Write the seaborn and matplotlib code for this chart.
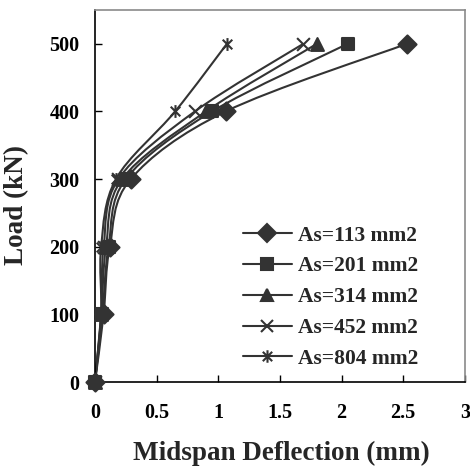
import matplotlib
matplotlib.use("Agg")
import matplotlib.pyplot as plt
import numpy as np
import pandas as pd
import seaborn as sns
from matplotlib.lines import Line2D
from matplotlib.path import Path
from matplotlib.patches import PathPatch

# Data
load = [0, 100, 200, 300, 400, 500]
defl_113 = [0.0, 0.07, 0.12, 0.29, 1.06, 2.53]
defl_201 = [0.0, 0.06, 0.11, 0.25, 0.95, 2.05]
defl_314 = [0.0, 0.05, 0.09, 0.22, 0.90, 1.80]
defl_452 = [0.0, 0.05, 0.07, 0.19, 0.81, 1.69]
defl_804 = [0.0, 0.05, 0.05, 0.17, 0.65, 1.07]
labels = ["As=113 mm2", "As=201 mm2", "As=314 mm2", "As=452 mm2", "As=804 mm2"]
x_ticks = [0, 0.5, 1, 1.5, 2, 2.5, 3]
x_ticklabels = ["0", "0.5", "1", "1.5", "2", "2.5", "3"]
y_ticks = [0, 100, 200, 300, 400, 500]

series = [defl_113, defl_201, defl_314, defl_452, defl_804]

# Excel style "star" marker: an x with a vertical bar through it
star = Path([(-0.75, -0.75), (0.75, 0.75), (-0.75, 0.75), (0.75, -0.75),
             (0, -1), (0, 1)],
            [Path.MOVETO, Path.LINETO, Path.MOVETO, Path.LINETO,
             Path.MOVETO, Path.LINETO])
markers = ["D", "s", "^", "x", star]

col = "#333333"
sns.set_style("ticks")
plt.rcParams["font.family"] = ["Liberation Serif", "DejaVu Serif"]
plt.rcParams["font.weight"] = "bold"

fig = plt.figure(figsize=(4.7, 4.69), dpi=100)
ax = fig.add_axes([0.2021, 0.1855, 0.7869, 0.7932])


def smooth_path(xs, ys):
    # Excel-style smoothed line (Catmull-Rom as cubic Bezier)
    pts = np.column_stack([xs, ys]).astype(float)
    verts = [pts[0]]
    codes = [Path.MOVETO]
    n = len(pts)
    for i in range(n - 1):
        p0 = pts[i - 1] if i > 0 else pts[i]
        p1, p2 = pts[i], pts[i + 1]
        p3 = pts[i + 2] if i + 2 < n else pts[i + 1]
        verts += [p1 + (p2 - p0) / 6, p2 - (p3 - p1) / 6, p2]
        codes += [Path.CURVE4] * 3
    return Path(verts, codes)


for d, lab, m in zip(series, labels, markers):
    ax.add_patch(PathPatch(smooth_path(d, load), fill=False, edgecolor=col,
                           lw=1.5, zorder=2))
    sub = pd.DataFrame({"defl": d, "load": load})
    sns.scatterplot(data=sub, x="defl", y="load", marker=m, s=85,
                    color=col, edgecolor=col, linewidth=1.5, ax=ax, zorder=3,
                    clip_on=False)

ax.set_xlim(0, 3)
ax.set_ylim(0, 550)
ax.set_xticks(x_ticks)
ax.set_xticklabels(x_ticklabels)
ax.set_yticks(y_ticks)
ax.tick_params(direction="in", length=5, width=1, colors="black",
               labelsize=14.5)
ax.tick_params(axis="x", pad=15)
ax.tick_params(axis="y", pad=11)
for t in ax.get_xticklabels() + ax.get_yticklabels():
    t.set_fontweight("bold")
ax.set_xlabel("Midspan Deflection (mm)", fontsize=19.5, fontweight="bold")
ax.set_ylabel("Load (kN)", fontsize=19.5, fontweight="bold")
ax.xaxis.set_label_coords(0.505, -0.158)
ax.yaxis.set_label_coords(-0.178, 0.476)

for s in ["left", "bottom"]:
    ax.spines[s].set_color("black")
    ax.spines[s].set_linewidth(1.2)
for s in ["top", "right"]:
    ax.spines[s].set_color("#8a8a8a")
    ax.spines[s].set_linewidth(1.2)

handles = [Line2D([0], [0], color=col, lw=1.5, marker=m, markersize=9,
                  markeredgewidth=1.5, markerfacecolor=col, markeredgecolor=col)
           for m in markers]
ax.legend(handles, labels, loc="lower right", bbox_to_anchor=(0.873, 0.035),
          frameon=False, prop={"weight": "bold", "size": 15.5},
          handlelength=2.3, labelspacing=0.5, handletextpad=0.25,
          borderpad=0, borderaxespad=0)

fig.savefig("out.png", dpi=100)
